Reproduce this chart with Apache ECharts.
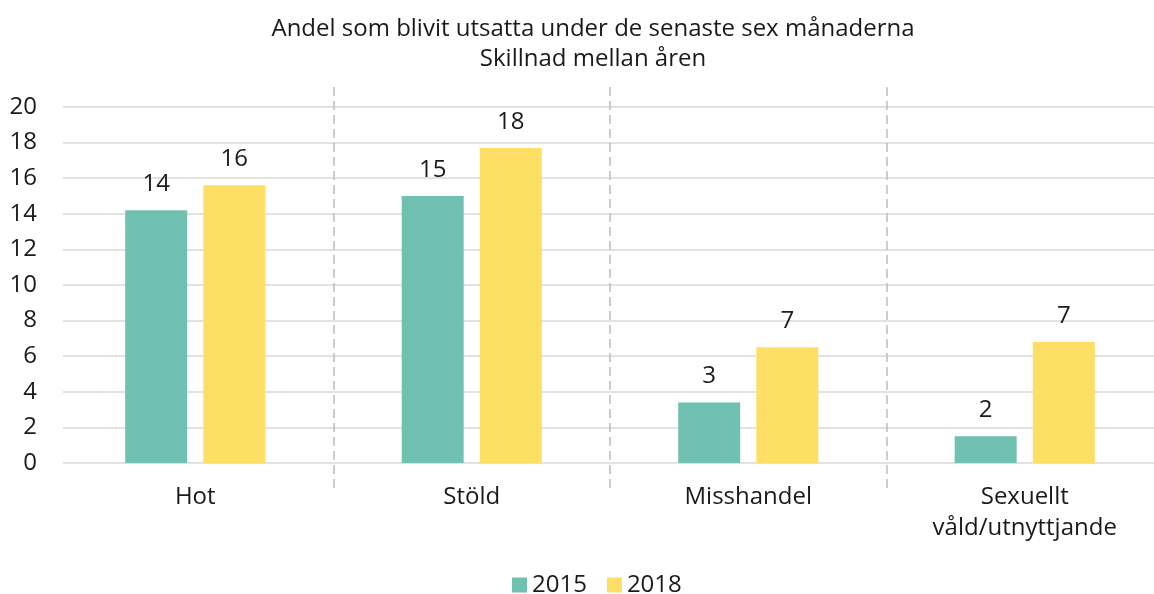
<!DOCTYPE html>
<html>
<head>
<meta charset="utf-8">
<script src="https://cdn.jsdelivr.net/npm/echarts@6/dist/echarts.min.js"></script>
<style>
  html, body { margin: 0; padding: 0; background: #fff; }
  #chart { width: 1154px; height: 594px; }
</style>
</head>
<body>
<div id="chart"></div>
<script>
// data
const categories = ['Hot', 'Stöld', 'Misshandel', 'Sexuellt\nvåld/utnyttjande']
const seriesNames = ['2015', '2018']
const values2015 = [14.2, 15.0, 3.4, 1.5]
const values2018 = [15.6, 17.7, 6.5, 6.8]
const yTicks = [0, 2, 4, 6, 8, 10, 12, 14, 16, 18, 20]

const font = '"Open Sans", "Noto Sans", sans-serif'
const textColor = '#1a1a1a'

const chart = echarts.init(document.getElementById('chart'))

const yMin = yTicks[0]
const yMax = yTicks[yTicks.length - 1]
const yStep = yTicks[1] - yTicks[0]

// bar value label, rounded like the original
const valueLabel = {
  show: true,
  position: 'top',
  distance: 14,
  color: textColor,
  fontSize: 24,
  fontFamily: font,
  formatter: p => Math.round(p.value)
}

chart.setOption({
  animation: false,
  textStyle: { fontFamily: font },
  title: {
    text: 'Andel som blivit utsatta under de senaste sex månaderna\nSkillnad mellan åren',
    left: 588,
    textAlign: 'center',
    top: 9,
    textStyle: {
      color: textColor,
      fontFamily: font,
      fontSize: 24,
      fontWeight: 'normal',
      lineHeight: 30
    }
  },
  legend: {
    top: 568,
    left: 507,
    itemWidth: 15,
    itemHeight: 15,
    itemGap: 20,
    icon: 'rect',
    textStyle: { color: textColor, fontSize: 24, fontFamily: font },
    data: seriesNames
  },
  grid: [
    // bars
    { left: 57, width: 1106, top: 107, bottom: 131, outerBoundsMode: 'none' },
    // y gridlines and labels
    { left: 63, right: 0, top: 107, bottom: 131, outerBoundsMode: 'none' },
    // dashed separators, taller than the plot
    { left: 57, width: 1106, top: 87, bottom: 102, outerBoundsMode: 'none' }
  ],
  xAxis: [
    {
      gridIndex: 0,
      type: 'category',
      data: categories,
      axisLine: { show: false },
      axisTick: { show: false },
      axisLabel: {
        color: textColor,
        fontSize: 24,
        fontFamily: font,
        lineHeight: 31,
        margin: 19
      }
    },
    {
      gridIndex: 1,
      type: 'value',
      show: false
    },
    {
      gridIndex: 2,
      type: 'category',
      data: categories,
      axisLine: { show: false },
      axisTick: { show: false },
      axisLabel: { show: false },
      splitLine: {
        show: true,
        showMinLine: false,
        showMaxLine: false,
        lineStyle: { color: '#bdbdbd', width: 1.5, type: [9, 5] }
      }
    }
  ],
  yAxis: [
    {
      gridIndex: 0,
      type: 'value',
      min: yMin,
      max: yMax,
      interval: yStep,
      show: false
    },
    {
      gridIndex: 1,
      type: 'value',
      min: yMin,
      max: yMax,
      interval: yStep,
      axisLine: { show: false },
      axisTick: { show: false },
      axisLabel: { color: textColor, fontSize: 24, fontFamily: font, margin: 26 },
      splitLine: { lineStyle: { color: '#d9d9d9', width: 1.5 } }
    },
    {
      gridIndex: 2,
      type: 'value',
      show: false
    }
  ],
  series: [
    {
      name: seriesNames[0],
      type: 'bar',
      xAxisIndex: 0,
      yAxisIndex: 0,
      data: values2015,
      barWidth: 62,
      barGap: '26%',
      itemStyle: { color: '#71c1b3' },
      label: valueLabel
    },
    {
      name: seriesNames[1],
      type: 'bar',
      xAxisIndex: 0,
      yAxisIndex: 0,
      data: values2018,
      barWidth: 62,
      barGap: '26%',
      itemStyle: { color: '#fedf66' },
      label: valueLabel
    }
  ]
})
</script>
</body>
</html>
